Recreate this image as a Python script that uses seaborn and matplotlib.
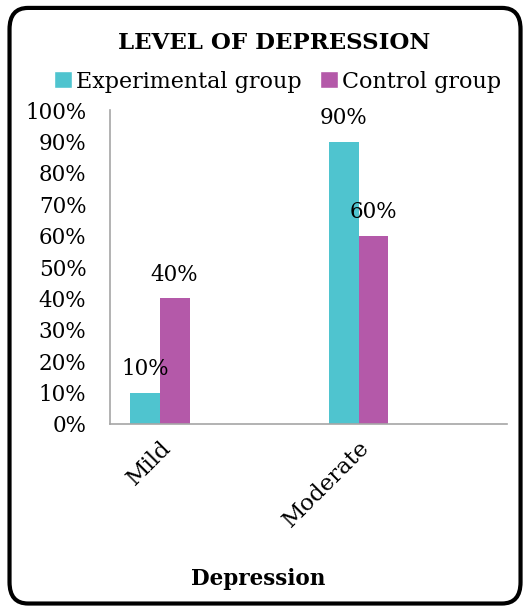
import pandas as pd
import numpy as np
import seaborn as sns
import matplotlib.pyplot as plt
from matplotlib.patches import FancyBboxPatch
from matplotlib.ticker import PercentFormatter

# data
categories = ['Mild', 'Moderate']
groups = ['Experimental group', 'Control group']
experimental = [10, 90]
control = [40, 60]
y_ticks = list(range(0, 101, 10))

df = pd.DataFrame({
    'level': categories * 2,
    'group': [groups[0]] * 2 + [groups[1]] * 2,
    'value': [v / 100 for v in experimental + control],
})

sns.set_style('white')
plt.rcParams['font.family'] = ['DejaVu Serif']
plt.rcParams['text.color'] = 'black'
plt.rcParams['xtick.color'] = 'black'
plt.rcParams['ytick.color'] = 'black'

fig = plt.figure(figsize=(5.29, 6.09), dpi=100)
ax = fig.add_axes([0.208, 0.304, 0.750, 0.515])

palette = {'Experimental group': '#4FC4CF', 'Control group': '#B459A9'}
sns.barplot(data=df, x='level', y='value', hue='group', order=categories,
            hue_order=groups, palette=palette, width=0.3, ax=ax,
            legend=False, saturation=1, linewidth=0)

# value labels above each bar
for cont in ax.containers:
    ax.bar_label(cont, labels=[f'{b.get_height() * 100:.0f}%' for b in cont],
                 padding=9, fontsize=15.5, color='black')

ax.set_xlim(-0.25, 1.745)
ax.set_ylim(0, 1)
ax.set_yticks([t / 100 for t in y_ticks])
ax.yaxis.set_major_formatter(PercentFormatter(1.0, decimals=0))
ax.tick_params(axis='both', length=0, labelsize=15.5)
ax.tick_params(axis='x', labelsize=16.5)
ax.tick_params(axis='y', pad=17)
ax.tick_params(axis='x', pad=9)
plt.setp(ax.get_xticklabels(), rotation=45, ha='right', rotation_mode='anchor')
ax.set_xlabel('')
ax.set_ylabel('')

for s in ['top', 'right']:
    ax.spines[s].set_visible(False)
for s in ['left', 'bottom']:
    ax.spines[s].set_color('#A6A6A6')
    ax.spines[s].set_linewidth(1.2)

fig.text(0.518, 0.93, 'LEVEL OF DEPRESSION', ha='center', va='center',
         fontsize=16.5, fontweight='bold')

handles = [plt.Rectangle((0, 0), 1, 1, facecolor=palette[g]) for g in groups]
fig.legend(handles, groups, loc='center', bbox_to_anchor=(0.525, 0.866),
           ncol=2, frameon=False, fontsize=16, handlelength=0.8,
           handleheight=0.8, handletextpad=0.2, columnspacing=0.8)

fig.text(0.488, 0.05, 'Depression', ha='center', va='center',
         fontsize=15.5, fontweight='bold')

# rounded chart frame
border = FancyBboxPatch((0.018, 0.009), 0.966, 0.978,
                        boxstyle='round,pad=0,rounding_size=0.035',
                        transform=fig.transFigure, fill=False,
                        edgecolor='black', linewidth=3)
fig.patches.append(border)

fig.savefig('out.png', dpi=100)
